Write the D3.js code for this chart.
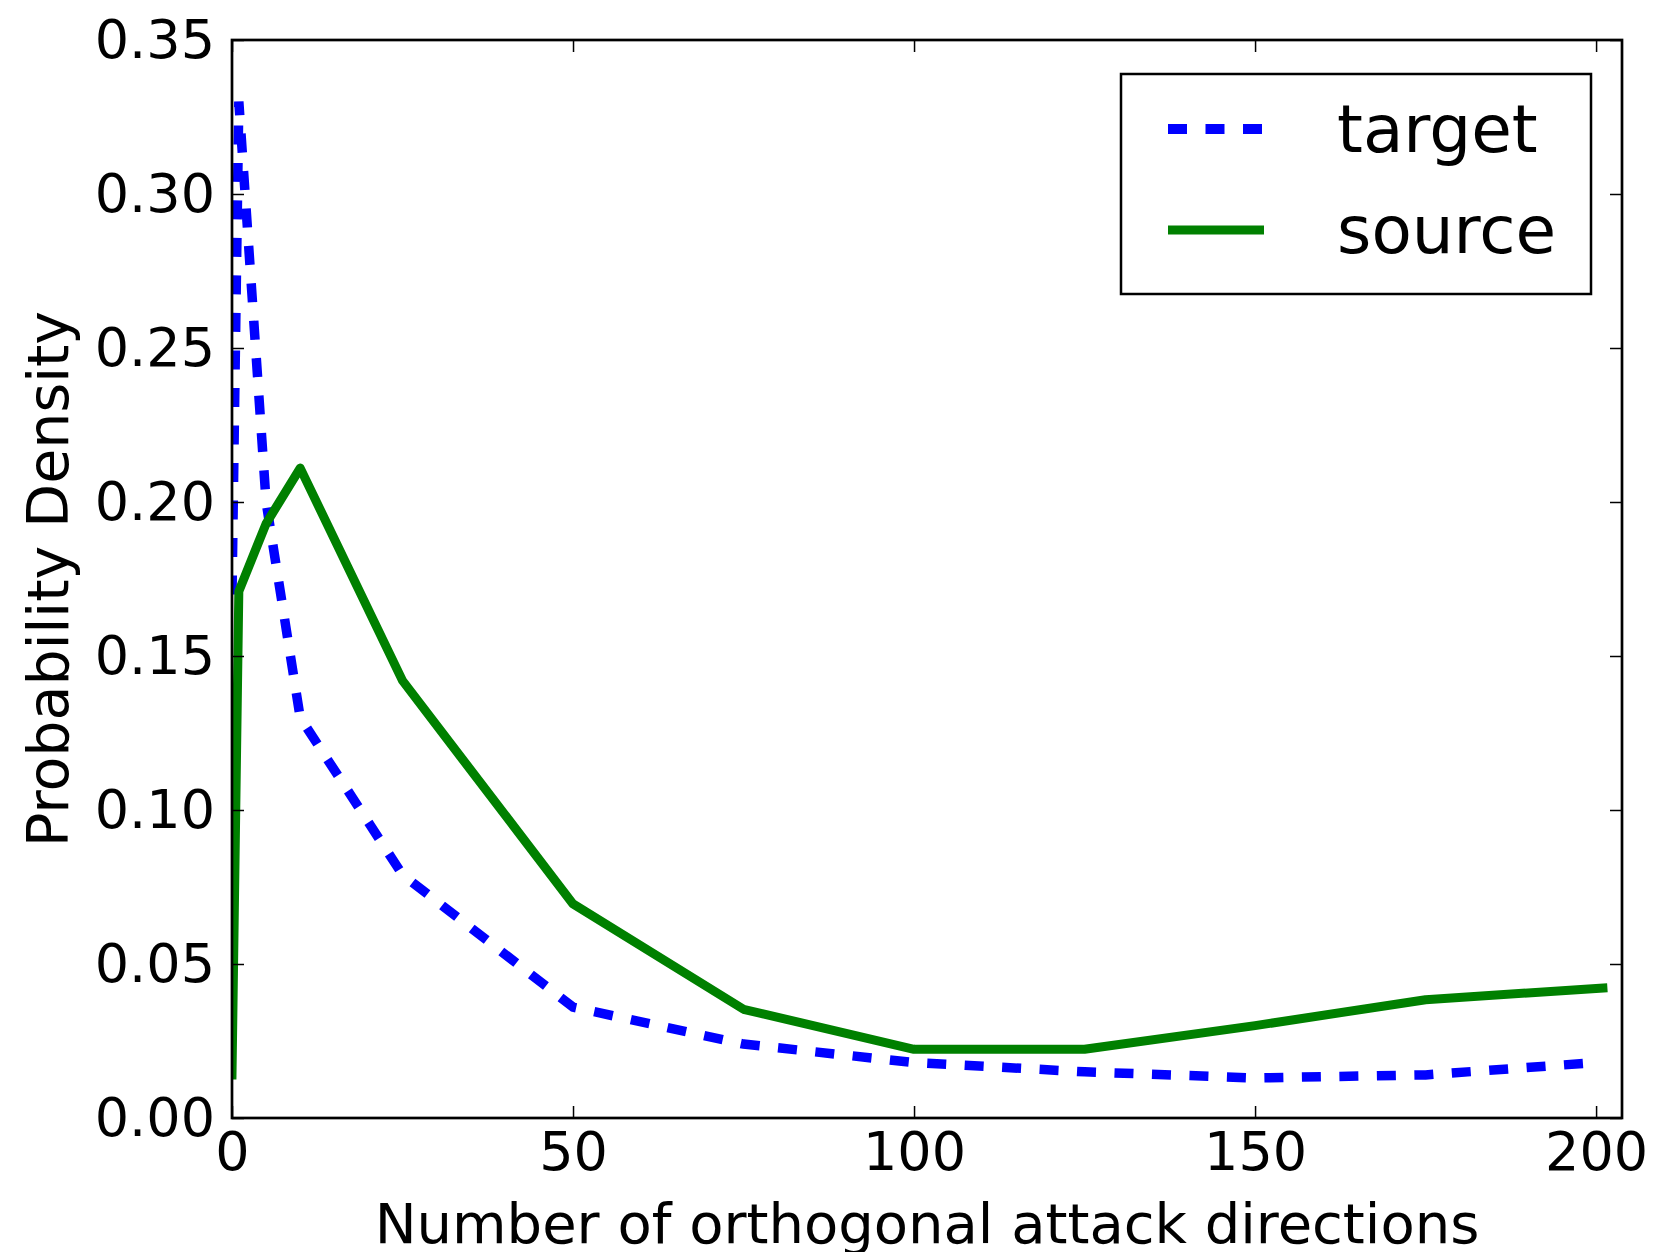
<!DOCTYPE html>
<html>
<head>
<meta charset="utf-8">
<script src="https://cdn.jsdelivr.net/npm/d3@7"></script>
<style>
  body { margin: 0; background: #fff; }
  text { font-family: "DejaVu Sans", sans-serif; fill: #000; }
</style>
</head>
<body>
<div id="chart"></div>
<script>
// data
var targetX = [0, 1, 5, 10, 25, 50, 75, 100, 125, 150, 175, 200];
var targetY = [0.17, 0.33, 0.20, 0.13, 0.079, 0.036, 0.024, 0.018, 0.015, 0.013, 0.014, 0.018];
var sourceX = [0, 1, 5, 10, 25, 50, 75, 100, 125, 150, 175, 201];
var sourceY = [0.014, 0.171, 0.193, 0.211, 0.142, 0.0695, 0.0353, 0.0223, 0.0223, 0.030, 0.0384, 0.0422];
var xTicks = [0, 50, 100, 150, 200];
var yTicks = [0, 0.05, 0.10, 0.15, 0.20, 0.25, 0.30, 0.35];
var seriesNames = ["target", "source"];
var colors = ["#0000ff", "#008000"];

var width = 1654, height = 1252;
var margin = { top: 40, right: 32, bottom: 134, left: 232 };
var innerWidth = width - margin.left - margin.right,
    innerHeight = height - margin.top - margin.bottom;

var svg = d3.select("#chart").append("svg")
    .attr("width", width)
    .attr("height", height);

svg.append("rect").attr("width", width).attr("height", height).attr("fill", "#fff");

var g = svg.append("g")
    .attr("transform", "translate(" + margin.left + "," + margin.top + ")");

var x = d3.scaleLinear().domain([0, 203.8]).range([0, innerWidth]);
var y = d3.scaleLinear().domain([0, 0.35]).range([innerHeight, 0]);

g.append("clipPath").attr("id", "clip")
  .append("rect").attr("width", innerWidth).attr("height", innerHeight);

var line = d3.line()
    .x(function (d) { return x(d[0]); })
    .y(function (d) { return y(d[1]); });

var target = d3.zip(targetX, targetY);
var source = d3.zip(sourceX, sourceY);

var lines = g.append("g").attr("clip-path", "url(#clip)");

lines.append("path")
    .datum(target)
    .attr("d", line)
    .attr("fill", "none")
    .attr("stroke", colors[0])
    .attr("stroke-width", 9.5)
    .attr("stroke-dasharray", "19,18.5");

lines.append("path")
    .datum(source)
    .attr("d", line)
    .attr("fill", "none")
    .attr("stroke", colors[1])
    .attr("stroke-width", 9)
    .attr("stroke-linejoin", "round")
    .attr("stroke-linecap", "square");

// axes, ticks pointing inward on all four sides
var xAxis = d3.axisBottom(x).tickValues(xTicks).tickFormat(d3.format("d"))
    .tickSizeInner(-12).tickSizeOuter(0).tickPadding(14);
var yAxis = d3.axisLeft(y).tickValues(yTicks).tickFormat(d3.format(".2f"))
    .tickSizeInner(-12).tickSizeOuter(0).tickPadding(17);
var xTop = d3.axisTop(x).tickValues(xTicks).tickFormat("")
    .tickSizeInner(-12).tickSizeOuter(0);
var yRight = d3.axisRight(y).tickValues(yTicks).tickFormat("")
    .tickSizeInner(-12).tickSizeOuter(0);

var axes = [
  g.append("g").attr("transform", "translate(0," + innerHeight + ")").call(xAxis),
  g.append("g").call(yAxis),
  g.append("g").call(xTop),
  g.append("g").attr("transform", "translate(" + innerWidth + ",0)").call(yRight)
];
axes.forEach(function (a) {
  a.select(".domain").remove();
  a.selectAll(".tick line").attr("stroke", "#000").attr("stroke-width", 1.5);
  a.selectAll(".tick text").style("font-size", "54px").attr("fill", "#000");
});

g.append("rect")
    .attr("width", innerWidth)
    .attr("height", innerHeight)
    .attr("fill", "none")
    .attr("stroke", "#000")
    .attr("stroke-width", 2.7);

// axis labels
svg.append("text")
    .attr("x", margin.left + innerWidth / 2)
    .attr("y", 1243)
    .attr("text-anchor", "middle")
    .style("font-size", "56px")
    .text("Number of orthogonal attack directions");

svg.append("text")
    .attr("transform", "translate(68," + (margin.top + innerHeight / 2) + ") rotate(-90)")
    .attr("text-anchor", "middle")
    .style("font-size", "57px")
    .text("Probability Density");

// legend
var legend = svg.append("g");
legend.append("rect")
    .attr("x", 1121).attr("y", 74)
    .attr("width", 470).attr("height", 220)
    .attr("fill", "#fff")
    .attr("stroke", "#000")
    .attr("stroke-width", 2.5);

var legendRows = [129, 230];
seriesNames.forEach(function (name, i) {
  legend.append("line")
      .attr("x1", 1168).attr("x2", 1264)
      .attr("y1", legendRows[i]).attr("y2", legendRows[i])
      .attr("stroke", colors[i])
      .attr("stroke-width", i === 0 ? 10 : 9)
      .attr("stroke-dasharray", i === 0 ? "19,18.5" : null);
  legend.append("text")
      .attr("x", 1337)
      .attr("y", legendRows[i] + 23)
      .style("font-size", "66px")
      .text(name);
});
</script>
</body>
</html>
